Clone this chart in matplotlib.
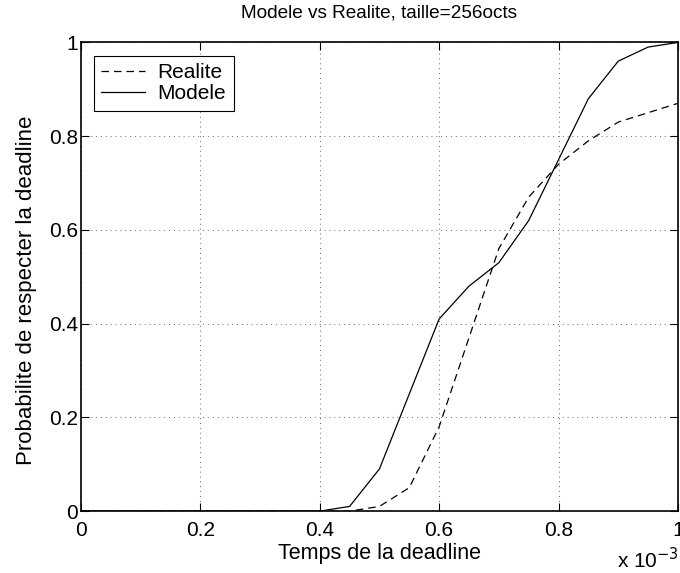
import numpy as np
import matplotlib
matplotlib.use('Agg')
import matplotlib.pyplot as plt

plt.rcParams['font.family'] = ['Liberation Sans', 'DejaVu Sans']

# deadline in seconds
temps = [0.00e-3, 0.05e-3, 0.10e-3, 0.15e-3, 0.20e-3, 0.25e-3, 0.30e-3,
         0.35e-3, 0.40e-3, 0.45e-3, 0.50e-3, 0.55e-3, 0.60e-3, 0.65e-3,
         0.70e-3, 0.75e-3, 0.80e-3, 0.85e-3, 0.90e-3, 0.95e-3, 1.00e-3]
realite = [0, 0, 0, 0, 0, 0, 0, 0, 0, 0, 0.01, 0.05, 0.18, 0.37,
           0.56, 0.67, 0.74, 0.79, 0.83, 0.85, 0.87]
modele = [0, 0, 0, 0, 0, 0, 0, 0, 0, 0.01, 0.09, 0.25, 0.41, 0.48,
          0.53, 0.62, 0.75, 0.88, 0.96, 0.99, 1.0]
ticks = [0, 0.2, 0.4, 0.6, 0.8, 1]
ticklabels = ['0', '0.2', '0.4', '0.6', '0.8', '1']

x = np.array(temps) * 1e3

fig = plt.figure(figsize=(6.8, 5.73), dpi=100)
ax = fig.add_axes([0.119, 0.108, 0.878, 0.818])

ax.plot(x, realite, 'k--', lw=0.9, dashes=(6, 4), label='Realite')
ax.plot(x, modele, 'k-', lw=0.9, label='Modele')

ax.set_xlim(0, 1)
ax.set_ylim(0, 1)
ax.set_xticks(ticks)
ax.set_xticklabels(ticklabels)
ax.set_yticks(ticks)
ax.set_yticklabels(ticklabels)
ax.tick_params(direction='in', top=True, right=True, labelsize=15, length=6, width=0.8)
ax.tick_params(axis='x', pad=7)
ax.tick_params(axis='y', pad=2)
ax.grid(True, linestyle=(0, (1, 4)), color='#666666', lw=0.7)
for s in ax.spines.values():
    s.set_linewidth(1.2)

ax.set_title('Modele vs Realite, taille=256octs', fontsize=13.7, pad=18)
ax.set_xlabel('Temps de la deadline', fontsize=15.5, labelpad=2)
ax.set_ylabel('Probabilite de respecter la deadline', fontsize=16)
ax.yaxis.set_label_coords(-0.073, 0.472)
fig.text(0.999, 0.008, r'x 10$^{-3}$', fontsize=15, ha='right')

leg = ax.legend(loc='upper left', fontsize=15, fancybox=False, edgecolor='black',
                framealpha=1, handlelength=2.1, handletextpad=0.6, borderpad=0.35,
                labelspacing=0.1, borderaxespad=0, bbox_to_anchor=(0.022, 0.971))
leg.get_frame().set_linewidth(0.8)

fig.savefig('out.png', dpi=100)
